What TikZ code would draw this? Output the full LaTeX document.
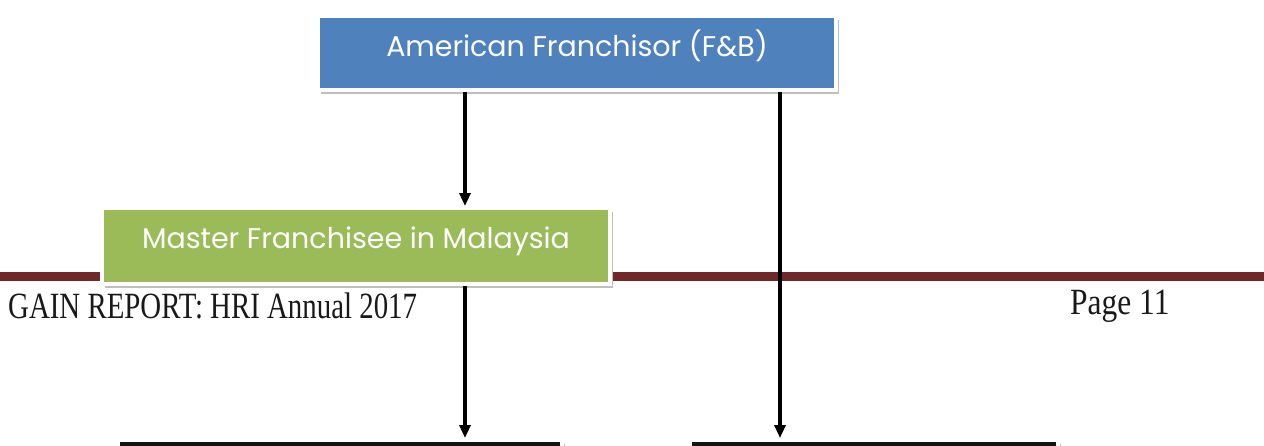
\documentclass[tikz,border=0pt]{standalone}
\usepackage{fontspec}
\setmainfont{Liberation Serif}
\newfontfamily\boxfont{Poppins}
\usetikzlibrary{arrows.meta,shadows}
\definecolor{obblue}{RGB}{79,129,189}
\definecolor{obgreen}{RGB}{155,187,89}
\definecolor{rulered}{RGB}{112,40,40}
\definecolor{darkbox}{RGB}{20,20,20}
\tikzset{
  orgbox/.style={draw=white, line width=4pt, inner sep=0pt, text=white,
    font=\boxfont\fontsize{28.5}{32}\selectfont,
    drop shadow={shadow xshift=3pt, shadow yshift=-4pt, fill=black!25, opacity=1}},
  conn/.style={line width=3.2pt, -{Triangle[length=13pt,width=11pt]}},
  foot/.style={font=\fontsize{37}{40}\selectfont, text=black!90, inner sep=0pt, anchor=west}
}
\begin{document}
\begin{tikzpicture}[x=1pt,y=-1pt]
\useasboundingbox[fill=white] (0,0) rectangle (1264,445);
\fill[rulered] (0,272) rectangle (1264,281);
\node[orgbox, fill=obblue, minimum width=518pt, minimum height=74pt] (af) at (577,53) {\raisebox{20pt}{American Franchisor (F\&B)}};
\node[orgbox, fill=obgreen, minimum width=508pt, minimum height=76pt] (mf) at (356,246) {\raisebox{17pt}{Master Franchisee in Malaysia}};
\node[orgbox, fill=darkbox, minimum width=444pt, minimum height=40pt, anchor=north] (b1) at (340,438) {};
\node[orgbox, fill=darkbox, minimum width=368pt, minimum height=40pt, anchor=north] (b2) at (874,438) {};
\node[foot] (gain) at (8,306) {\scalebox{0.78}[1]{GAIN REPORT: HRI Annual 2017}};
\node[foot] (page) at (1070,306) {\scalebox{0.85}[1]{Page 11}};
\draw[conn] (af.south -| 465,0) -- (mf.north -| 465,0);
\draw[conn] (mf.south -| 465,0) -- (b1.north -| 465,0);
\draw[conn] (af.south -| 780,0) -- (b2.north -| 780,0);
\end{tikzpicture}
\end{document}
